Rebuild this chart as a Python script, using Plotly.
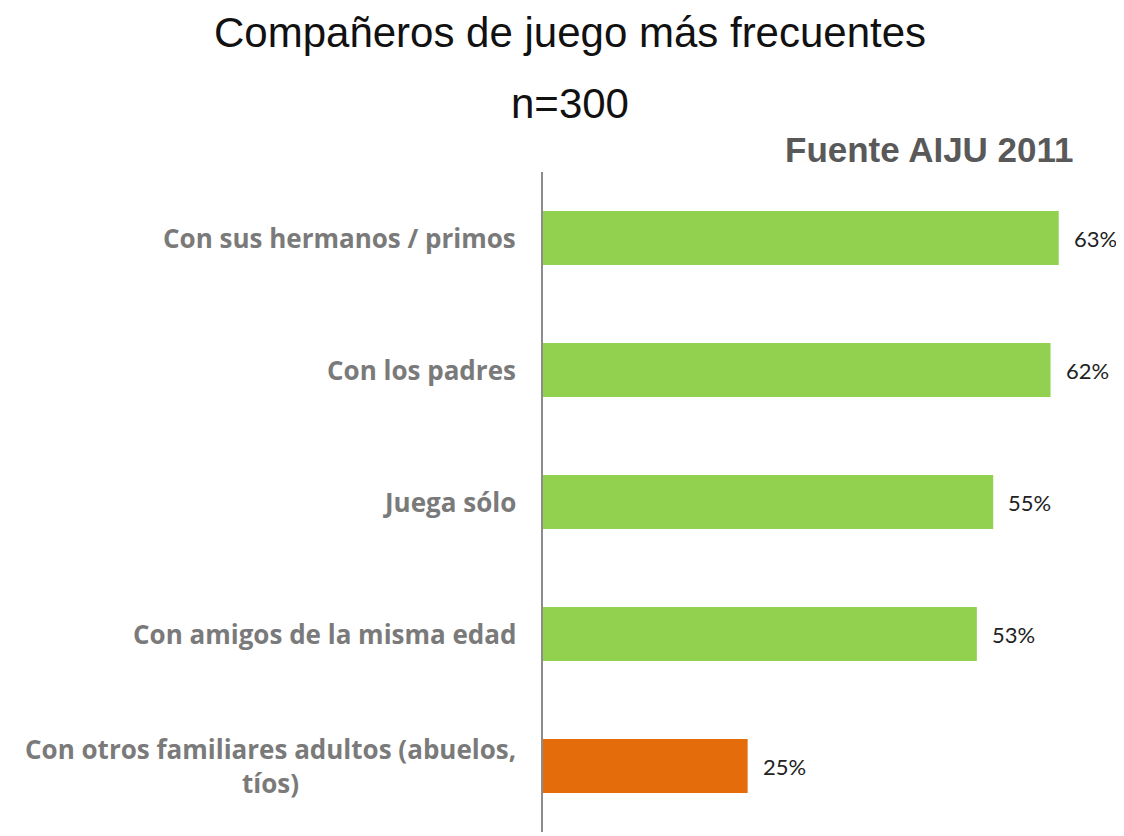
import plotly.graph_objects as go

categories = [
    "Con sus hermanos / primos",
    "Con los padres",
    "Juega sólo",
    "Con amigos de la misma edad",
    "Con otros familiares adultos (abuelos,<br>tíos)",
]
values = [63, 62, 55, 53, 25]
colors = ["#92D050", "#92D050", "#92D050", "#92D050", "#E46C0A"]
value_labels = [f"{v}%" for v in values]

# page has an 8px body margin; figure coordinates = page coordinates - 8
W, H = 1116, 828
L, T, R, B = 535, 164, 8, 4
PW, PH = W - L - R, H - T - B

fig = go.Figure()
fig.add_trace(go.Bar(
    y=categories,
    x=values,
    orientation="h",
    marker=dict(color=colors, line=dict(width=0)),
    width=0.41,
    hoverinfo="skip",
))

annotations = []
for c in categories:
    annotations.append(dict(
        x=0, xref="x", y=c, yref="y",
        text=c, showarrow=False, xanchor="right", yanchor="middle",
        xshift=-25, align="center",
        font=dict(family="Open Sans", size=26, color="#7a7a7a", weight="bold"),
    ))
for c, v, t in zip(categories, values, value_labels):
    annotations.append(dict(
        x=v, xref="x", y=c, yref="y",
        text=t, showarrow=False, xanchor="left", yanchor="middle",
        xshift=13,
        font=dict(family="Lato", size=22, color="#222222"),
    ))

# titles (pixel positions converted to paper coordinates)
def px(xp):
    return (xp - L) / PW

def py(yp):
    return (H - B - yp) / PH

annotations += [
    dict(text="Compañeros de juego más frecuentes", xref="paper", yref="paper",
         x=px(562), y=py(0), xanchor="center", yanchor="top", showarrow=False,
         borderpad=0,
         font=dict(family="Liberation Sans", size=42, color="#111111")),
    dict(text="n=300", xref="paper", yref="paper",
         x=px(562), y=py(95), xanchor="center", yanchor="middle", showarrow=False,
         font=dict(family="Liberation Sans", size=42, color="#111111")),
    dict(text="Fuente AIJU 2011", xref="paper", yref="paper",
         x=px(1068), y=py(142), xanchor="right", yanchor="middle", showarrow=False,
         font=dict(family="Liberation Sans", size=35, color="#595959", weight="bold")),
]

fig.update_layout(
    width=W, height=H,
    margin=dict(l=L, r=R, t=T, b=B, autoexpand=False),
    paper_bgcolor="white", plot_bgcolor="white",
    showlegend=False,
    xaxis=dict(range=[0, 70], visible=False),
    yaxis=dict(
        categoryorder="array", categoryarray=categories[::-1],
        range=[-0.5, 4.5], showticklabels=False, ticks="",
        showline=True, linecolor="#8c8c8c", linewidth=1.5, showgrid=False,
        zeroline=False,
    ),
    annotations=annotations,
)

fig.write_html("out.html")
